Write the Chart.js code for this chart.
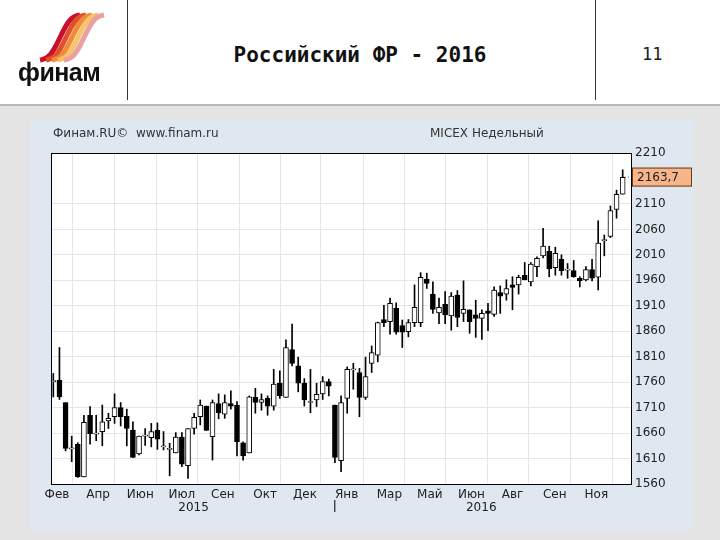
<!DOCTYPE html>
<html><head><meta charset="utf-8">
<script src="https://cdn.jsdelivr.net/npm/chart.js@4"></script>
<style>
body{margin:0;width:720px;height:540px;background:#e4e4e4;position:relative;overflow:hidden;font-family:"DejaVu Sans",sans-serif}
#hdr{position:absolute;left:0;top:0;width:720px;height:104px;background:#fff;border-bottom:2px solid #b8b8b8}
.vl{position:absolute;top:0;width:1px;height:100px;background:#333}
#panel{position:absolute;left:30px;top:120px;width:663px;height:410px;background:#dfe7f1}
#logo{position:absolute;left:18px;top:58px;font:bold 25px "Liberation Sans",Arial;color:#111;letter-spacing:-0.5px}
#title{position:absolute;left:150px;width:420px;top:43px;text-align:center;font:bold 21px "DejaVu Sans Mono",monospace;color:#111}
#num{position:absolute;left:642px;top:44px;font:17px "DejaVu Sans Mono",monospace;color:#222}
.t{position:absolute;top:126px;font:12px "DejaVu Sans",sans-serif;color:#333}
</style></head><body>
<div id="hdr">
<canvas id="lg" width="80" height="60" style="position:absolute;left:30px;top:10px"></canvas>
<div id="logo">финам</div>
<div class="vl" style="left:127px"></div><div class="vl" style="left:595px"></div>
<div id="title">Российский ФР - 2016</div>
<div id="num">11</div>
</div>
<div id="panel"><canvas id="c" width="663" height="410"></canvas></div>
<div class="t" style="left:53px">Финам.RU©&nbsp; www.finam.ru</div>
<div class="t" style="left:430px">MICEX Недельный</div>
<script>
const opens =[1761,1764,1720,1629,1638,1574,1695,1658,1663,1684,1692,1710,1693,1666,1619,1654,1651,1666,1633,1628,1621,1652,1596,1669,1692,1713,1653,1718,1697,1718,1715,1641,1621,1730,1720,1728,1713,1758,1730,1824,1792,1758,1720,1725,1737,1761,1715,1606,1728,1784,1779,1730,1797,1813,1883,1879,1905,1871,1859,1877,1877,1962,1933,1896,1913,1890,1931,1895,1902,1892,1885,1900,1893,1936,1933,1951,1951,1970,1957,1987,2008,2017,1985,2001,1980,1979,1964,1961,1981,1966,2038,2046,2099,2129];
const closes=[1761,1731,1630,1629,1574,1681,1659,1658,1682,1689,1710,1692,1669,1612,1654,1654,1663,1648,1633,1628,1652,1599,1669,1691,1715,1665,1720,1700,1720,1713,1643,1615,1731,1720,1726,1713,1756,1733,1828,1797,1758,1725,1720,1736,1761,1752,1612,1720,1785,1784,1730,1771,1818,1877,1877,1915,1858,1858,1877,1907,1966,1954,1903,1907,1892,1929,1887,1903,1879,1885,1895,1895,1941,1929,1944,1946,1966,1961,1992,2003,2027,1983,2013,1979,1980,1967,1959,1981,1964,2033,2038,2097,2129,2162];
const highs =[1777,1828,1720,1654,1641,1695,1712,1695,1715,1699,1737,1720,1707,1682,1654,1669,1679,1680,1663,1640,1661,1661,1669,1699,1725,1713,1725,1737,1735,1743,1722,1643,1733,1748,1737,1733,1785,1782,1843,1874,1809,1767,1785,1758,1771,1766,1715,1733,1790,1797,1787,1809,1831,1878,1911,1925,1916,1882,1883,1951,1975,1974,1957,1925,1938,1936,1940,1959,1902,1921,1902,1915,1947,1949,1961,1967,1970,1995,1995,2006,2062,2027,2025,2010,1993,1999,1967,1987,2001,2077,2049,2106,2137,2177];
const lows  =[1731,1726,1625,1604,1573,1574,1638,1645,1635,1669,1679,1674,1635,1612,1617,1636,1633,1628,1627,1576,1621,1594,1571,1658,1676,1665,1607,1688,1689,1707,1615,1607,1621,1699,1705,1695,1705,1728,1730,1792,1741,1713,1700,1712,1726,1733,1602,1584,1699,1746,1692,1726,1779,1800,1869,1854,1854,1828,1849,1869,1869,1944,1895,1875,1875,1862,1869,1879,1856,1848,1844,1861,1889,1895,1921,1902,1933,1961,1949,1967,2004,1967,1970,1970,1964,1966,1947,1959,1959,1941,2008,2044,2082,2129];
const yTicks=[1560,1610,1660,1710,1760,1810,1860,1910,1960,2010,2060,2110,2210];
const gridPos=[6.49,13.35,20.2,26.9,33.8,40.3,47.1,54.1,60.7,67.5,74.2,81.1,87.9];
const monthLabels=["Фев","Апр","Июн","Июл","Сен","Окт","Дек","Янв","Мар","Май","Июн","Авг","Сен","Ноя"];
const monthPos=[0.6,7.3,14.2,21.0,27.7,34.6,41.1,47.9,54.9,61.5,68.3,75.0,81.9,88.7];
const yearLabels=["2015","2016"]; const yearPos=[22.9,69.9];
const lastPrice="2163,7", lastValue=2163.7;

(function(){const g=document.getElementById('lg').getContext('2d');
const cols=['#c8102e','#e0502a','#f08a3c','#f7c46a','#e8a0a0'];
for(let k=0;k<5;k++){g.strokeStyle=cols[k];g.lineWidth=5;g.beginPath();
for(let t=0;t<=1.001;t+=0.05){const x=10+k*6+t*40,y=50-t*45+Math.sin(t*6.28)*6; if(t===0)g.moveTo(x,y);else g.lineTo(x,y);}g.stroke();}})();

const idx=opens.map((_,i)=>i);
const wick=idx.map(i=>({x:i,y:[lows[i],highs[i]]}));
const body=idx.map(i=>({x:i,y:[opens[i],closes[i]]}));
const bodyCol=idx.map(i=>closes[i]>=opens[i]?'#ffffff':'#000000');

const bg={id:'bg',beforeDraw(ch){const c=ch.ctx,a=ch.chartArea;c.save();c.fillStyle='#fff';c.fillRect(a.left,a.top,a.right-a.left,a.bottom-a.top);c.restore();}};
const overlay={id:'ov',afterDraw(ch){const c=ch.ctx,a=ch.chartArea,xs=ch.scales.x,ys=ch.scales.y;
c.save();c.strokeStyle='#000';c.lineWidth=1;c.strokeRect(a.left+0.5,a.top+0.5,a.right-a.left,a.bottom-a.top);
c.fillStyle='#222';c.font='12px "DejaVu Sans"';c.textAlign='center';c.textBaseline='top';
monthLabels.forEach((l,i)=>c.fillText(l,xs.getPixelForValue(monthPos[i]),a.bottom+5));
yearLabels.forEach((l,i)=>c.fillText(l,xs.getPixelForValue(yearPos[i]),a.bottom+18));
const mx=xs.getPixelForValue(45.9);c.beginPath();c.moveTo(mx+0.5,a.bottom+16);c.lineTo(mx+0.5,a.bottom+28);c.stroke();
const py=ys.getPixelForValue(lastValue);
c.fillStyle='#f7b58a';c.fillRect(a.right+1,py-9,60,19);c.strokeStyle='#6b3a1a';c.strokeRect(a.right+1.5,py-8.5,59,18);
c.setLineDash([1,2]);c.strokeStyle='#555';c.beginPath();c.moveTo(a.right-6,py+0.5);c.lineTo(a.right,py+0.5);c.stroke();c.setLineDash([]);
c.fillStyle='#222';c.textAlign='left';c.textBaseline='middle';c.fillText(lastPrice,a.right+6,py+1);
c.restore();}};

new Chart(document.getElementById('c'),{
type:'bar',
data:{datasets:[
{data:wick,backgroundColor:'#000',barThickness:1,grouped:false,order:2},
{data:body,backgroundColor:bodyCol,borderColor:'#000',borderWidth:1,borderSkipped:false,barThickness:5,minBarLength:1,grouped:false,order:1}
]},
options:{responsive:false,animation:false,
layout:{padding:{left:21,top:33,right:0,bottom:0}},
plugins:{legend:{display:false},tooltip:{enabled:false}},
scales:{
x:{type:'linear',min:-0.38,max:94.36,offset:false,
 afterBuildTicks(s){s.ticks=gridPos.map(v=>({value:v}));},
 afterFit(s){s.height=46;},
 ticks:{display:false},grid:{color:'#e6e6e6',drawTicks:false},border:{display:false}},
y:{position:'right',min:1560,max:2210,
 afterBuildTicks(s){s.ticks=yTicks.map(v=>({value:v}));},
 afterFit(s){s.width=62;},
 ticks:{color:'#222',font:{family:'DejaVu Sans',size:12},padding:4,callback:v=>String(v)},
 grid:{color:'#e6e6e6',drawTicks:false},border:{display:false}}
}},
plugins:[bg,overlay]});
</script></body></html>
